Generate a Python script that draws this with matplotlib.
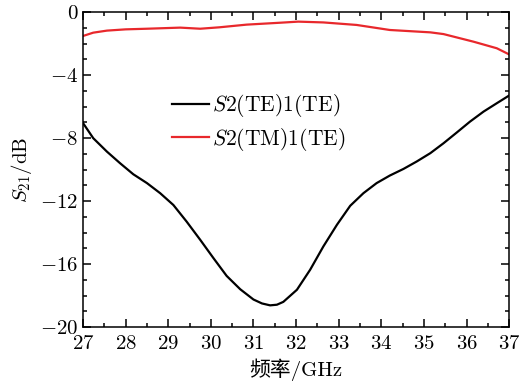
import numpy as np
import matplotlib
matplotlib.use("Agg")
import matplotlib.pyplot as plt
from matplotlib.ticker import MultipleLocator

plt.rcParams['mathtext.fontset'] = 'cm'
plt.rcParams['font.family'] = ['cmr10', 'Noto Sans CJK SC']
plt.rcParams['axes.formatter.use_mathtext'] = True
plt.rcParams['axes.unicode_minus'] = True

# S2(TE)1(TE)
f_te = [27.0, 27.24, 27.56, 27.87, 28.18, 28.5, 28.81, 29.12, 29.43, 29.75,
        30.06, 30.37, 30.69, 31.0, 31.2, 31.39, 31.55, 31.7, 32.02, 32.33,
        32.64, 32.96, 33.27, 33.58, 33.89, 34.2, 34.52, 34.83, 35.15, 35.46,
        35.77, 36.08, 36.4, 36.71, 37.0]
s_te = [-7.05, -8.01, -8.86, -9.6, -10.3, -10.86, -11.5, -12.25, -13.3, -14.46,
        -15.62, -16.75, -17.6, -18.25, -18.5, -18.62, -18.58, -18.4, -17.63, -16.36,
        -14.88, -13.5, -12.3, -11.5, -10.86, -10.38, -9.96, -9.49, -8.96, -8.33,
        -7.65, -6.96, -6.32, -5.79, -5.3]

# S2(TM)1(TE)
f_tm = [27.0, 27.24, 27.56, 28.0, 28.5, 29.28, 29.75, 30.2, 30.84, 31.62, 32.05,
        32.64, 33.42, 34.2, 35.15, 35.46, 36.16, 36.71, 37.0]
s_tm = [-1.52, -1.31, -1.18, -1.1, -1.06, -0.99, -1.06, -0.97, -0.8, -0.68, -0.61,
        -0.66, -0.82, -1.14, -1.29, -1.4, -1.88, -2.3, -2.69]

fig = plt.figure(figsize=(5.19, 3.88), dpi=100)
ax = fig.add_axes([0.160, 0.157, 0.821, 0.812])

ax.plot(f_te, s_te, color='black', lw=1.6, label=r'$S\mathrm{2(TE)1(TE)}$')
ax.plot(f_tm, s_tm, color='#e8282c', lw=1.6, label=r'$S\mathrm{2(TM)1(TE)}$')

ax.set_xlim(27, 37)
ax.set_ylim(-20, 0)
ax.xaxis.set_major_locator(MultipleLocator(1))
ax.xaxis.set_minor_locator(MultipleLocator(0.5))
ax.yaxis.set_major_locator(MultipleLocator(4))
ax.yaxis.set_minor_locator(MultipleLocator(1))
ax.tick_params(which='both', direction='in', top=True, right=True, labelsize=15, width=1.1)
ax.tick_params(which='major', length=6)
ax.tick_params(which='minor', length=3)
ax.tick_params(axis='x', pad=6)
for sp in ax.spines.values():
    sp.set_linewidth(1.1)

ax.set_xlabel('频率/GHz', fontsize=15, labelpad=4)
ax.set_ylabel(r'$S_{21}/\mathrm{dB}$', fontsize=15, labelpad=4)

ax.legend(loc='upper left', bbox_to_anchor=(0.208, 0.745), frameon=False, fontsize=15.5,
          handlelength=1.75, handletextpad=0.12, labelspacing=0.3, borderaxespad=0,
          borderpad=0)

fig.savefig('out.png', dpi=100)
